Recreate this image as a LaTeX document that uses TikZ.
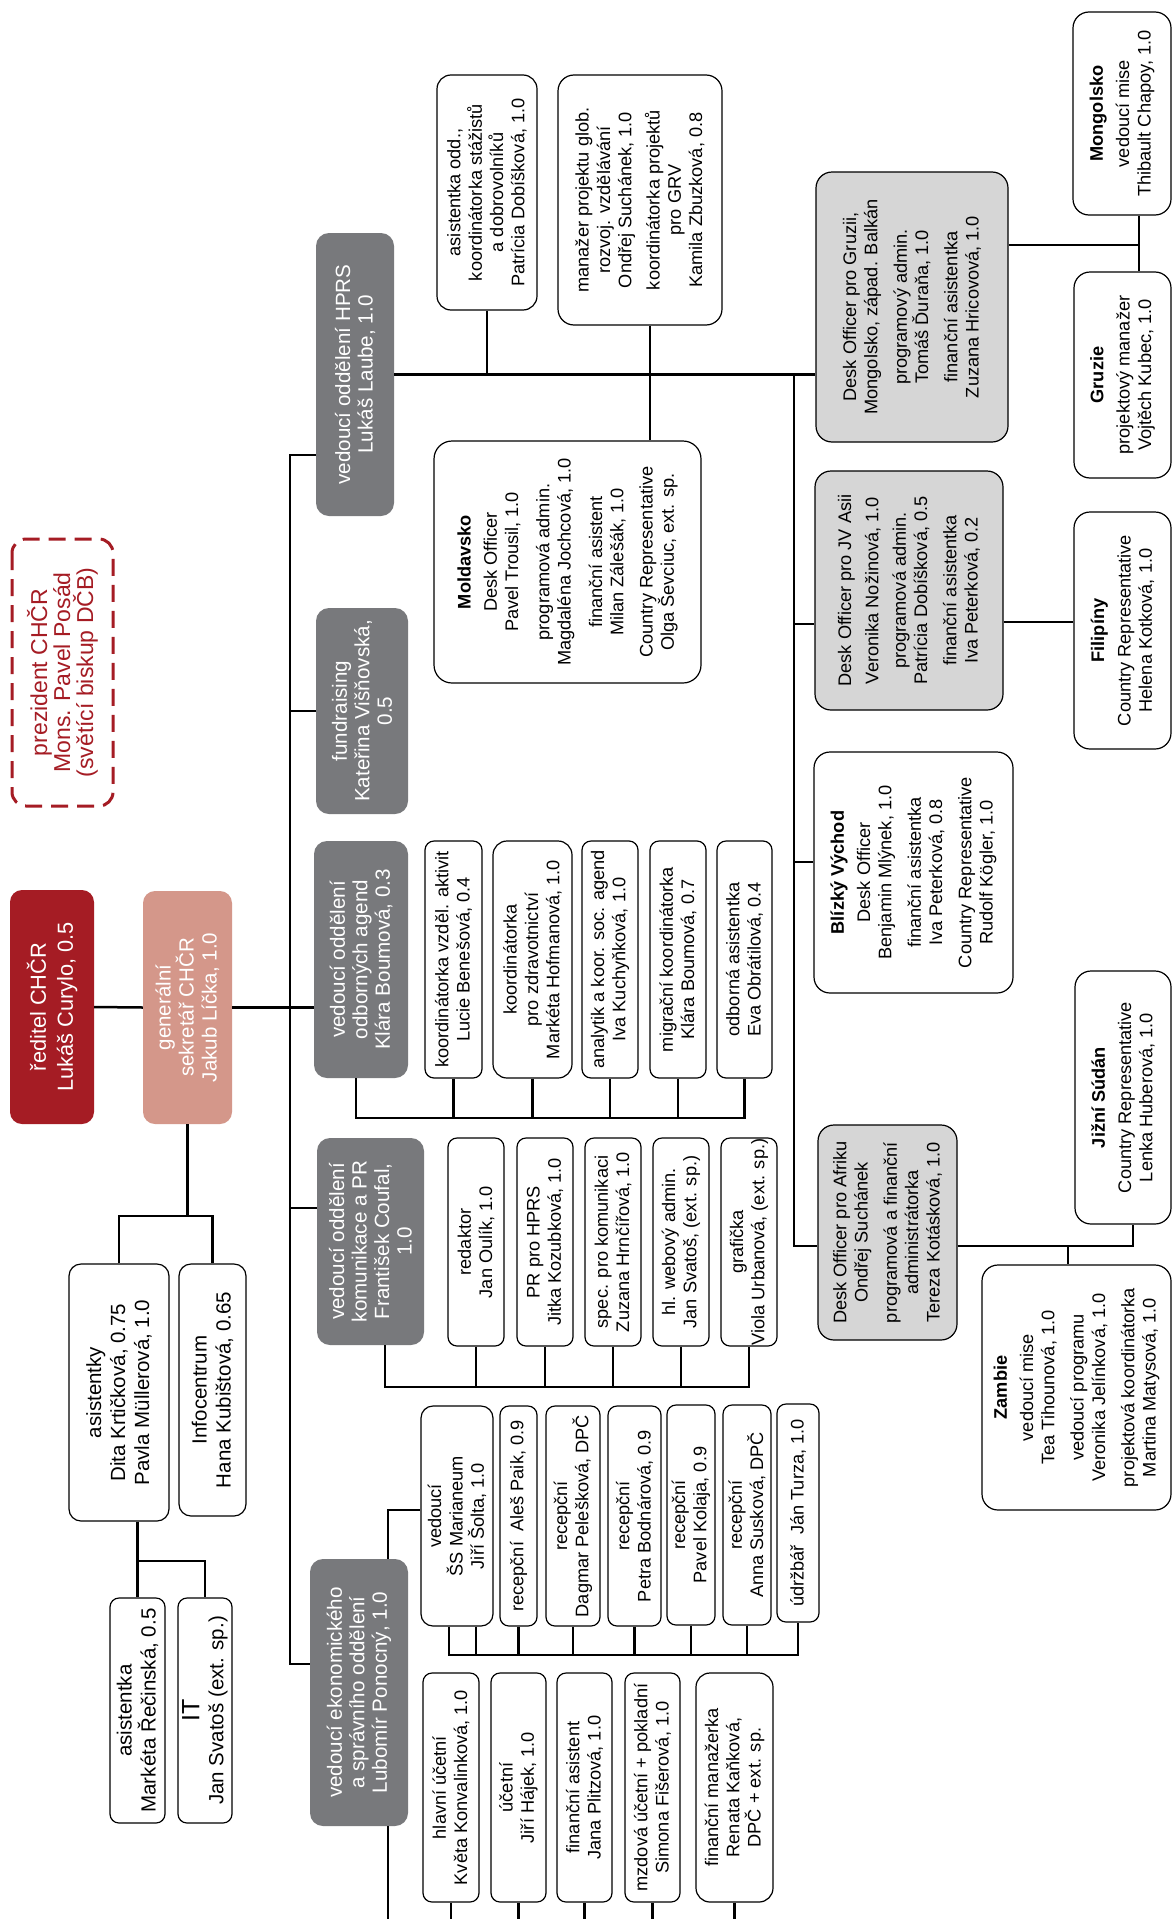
\documentclass[tikz,border=0pt]{standalone}
\usepackage{fontspec}
\setmainfont{Liberation Sans}
\definecolor{cred}{HTML}{A51C24}
\definecolor{csalmon}{HTML}{D4978A}
\definecolor{cgray}{HTML}{78797C}
\definecolor{clight}{HTML}{D6D6D6}
\newcommand\fsm{\fontsize{18.2}{21.3}\selectfont}
\newcommand\fdp{\fontsize{20.6}{22.5}\selectfont}
\newcommand\flc{\fontsize{20.5}{24}\selectfont}
\tikzset{
  base/.style={rotate=90, align=center, inner sep=0pt, font=\fsm},
  sz/.style 2 args={minimum height=#1pt, minimum width=#2pt},
  sbox/.style={base, draw, line width=1.2pt, rounded corners=9pt, fill=white},
  dept/.style={base, fill=cgray, rounded corners=13pt, text=white, font=\fdp},
  desk/.style={base, draw, line width=1.2pt, fill=clight, rounded corners=16pt},
  ctry/.style={base, draw, line width=1.2pt, fill=white, rounded corners=16pt},
  conn/.style={draw, line width=2.5pt},
}
\begin{document}
\begin{tikzpicture}[x=1pt, y=-1pt]
\fill[white] (0,0) rectangle (1173,1919);
\useasboundingbox (0,0) rectangle (1173,1919);

% leadership
\node[base, draw=cred, dash pattern=on 17pt off 9pt, line width=3pt, rounded corners=14pt, text=cred,
  font=\fontsize{23}{23}\selectfont, sz={101}{267}] (pres) at (62.5,672.5)
  {prezident CHČR\\Mons. Pavel Posád\\(světící biskup DČB)};
\node[base, fill=cred, rounded corners=12pt, text=white, font=\fontsize{21.8}{27}\selectfont,
  sz={84}{234}] (red) at (52,1007) {ředitel CHČR\\Lukáš Curylo, 0.5};
\node[base, fill=csalmon, rounded corners=12pt, text=white, font=\fontsize{20.5}{23}\selectfont,
  sz={89}{233}] (sekr) at (187.5,1007.5) {generální\\sekretář CHČR\\Jakub Líčka, 1.0};

% left column
\node[sbox, rounded corners=12pt, font=\flc, sz={100}{257}] (asist) at (119,1392.5) {asistentky\\Dita Krtičková, 0.75\\Pavla Müllerová, 1.0};
\node[sbox, rounded corners=12pt, font=\flc, sz={67}{252}] (info) at (212.5,1390) {Infocentrum\\Hana Kubištová, 0.65};
\node[sbox, font=\flc, sz={55}{225}] (asistka) at (137.5,1710.5) {asistentka\\Markéta Řečinská, 0.5};
\node[sbox, font=\flc, sz={54}{225}] (it) at (205,1710.5) {{\fontsize{25}{24}\selectfont IT}\\Jan Svatoš (ext. sp.)};

% departments
\node[dept, sz={78}{283}] (hprs) at (355,374.5) {vedoucí oddělení HPRS\\Lukáš Laube, 1.0};
\node[dept, sz={92}{206}] (fund) at (362,711) {fundraising\\Kateřina Višňovská,\\0.5};
\node[dept, sz={94}{237}] (odb) at (361,959.5) {vedoucí oddělení\\odborných agend\\Klára Boumová, 0.3};
\node[dept, sz={107}{207}] (kom) at (370.5,1241.5) {vedoucí oddělení\\komunikace a PR\\František Coufal,\\1.0};
\node[dept, sz={98}{267}] (eko) at (359,1692.5) {vedoucí ekonomického\\a správního oddělení\\Lubomír Ponocný, 1.0};

% HPRS
\node[sbox, rounded corners=14pt, sz={100}{235}] (asodd) at (487,192.5) {asistentka odd.,\\koordinátorka stážistů\\a dobrovolníků\\Patrícia Dobíšková, 1.0};
\node[sbox, rounded corners=16pt, sz={164}{250}] (manaz) at (640,200) {manažer projektu glob.\\rozvoj. vzdělávání\\Ondřej Suchánek, 1.0\\[7pt]koordinátorka projektů\\pro GRV\\Kamila Zbuzková, 0.8};
\node[ctry, rounded corners=18pt, sz={267}{242}] (mold) at (567.5,562) {\textbf{Moldavsko}\\[5pt]Desk Officer\\Pavel Trousil, 1.0\\[10pt]programová admin.\\Magdaléna Jochcová, 1.0\\[10pt]finanční asistent\\Milan Zálešák, 1.0\\[8pt]Country Representative\\Olga Ševciuc, ext. sp.};

% desk officers
\node[desk, sz={192}{270}] (gdesk) at (912,307) {Desk Officer pro Gruzii,\\Mongolsko, západ. Balkán\\[8pt]programový admin.\\Tomáš Ďuraňa, 1.0\\[8pt]finanční asistentka\\Zuzana Hricovová, 1.0};
\node[desk, sz={188}{239}] (jvdesk) at (909,590.5) {Desk Officer pro JV Asii\\[6pt]Veronika Nožinová, 1.0\\[6pt]programová admin.\\Patrícia Dobíšková, 0.5\\[8pt]finanční asistentka\\Iva Peterková, 0.2};
\node[ctry, sz={199}{241}] (bv) at (913.5,872.5) {\textbf{Blízký Východ}\\[5pt]Desk Officer\\Benjamin Mlýnek, 1.0\\[8pt]finanční asistentka\\Iva Peterková, 0.8\\[8pt]Country Representative\\Rudolf Kögler, 1.0};
\node[desk, sz={139}{215}] (afdesk) at (887.5,1232.5) {Desk Officer pro Afriku\\Ondřej Suchánek\\[8pt]programová a finanční\\administrátorka\\Tereza Kotásková, 1.0};

% countries
\node[ctry, sz={98}{203}] (mong) at (1122,113.5) {\textbf{Mongolsko}\\[5pt]vedoucí mise\\Thibault Chapoy, 1.0};
\node[ctry, sz={97}{206}] (gruz) at (1122.5,375) {\textbf{Gruzie}\\[5pt]projektový manažer\\Vojtěch Kubec, 1.0};
\node[ctry, sz={97}{237}] (fil) at (1122.5,630.5) {\textbf{Filipíny}\\[5pt]Country Representative\\Helena Kotková, 1.0};
\node[ctry, sz={96}{253}] (js) at (1123,1097.5) {\textbf{Jižní Súdán}\\[5pt]Country Representative\\Lenka Huberová, 1.0};
\node[ctry, sz={189}{245}] (zam) at (1076.5,1387.5) {\textbf{Zambie}\\[5pt]vedoucí mise\\Tea Tihounová, 1.0\\[8pt]vedoucí programu\\Veronika Jelínková, 1.0\\[8pt]projektová koordinátorka\\Martina Matysová, 1.0};

% odborne agendy
\node[sbox, sz={57}{237}] (o1) at (453.5,959.5) {koordinátorka vzděl. aktivit\\Lucie Benešová, 0.4};
\node[sbox, rounded corners=14pt, sz={79}{237}] (o2) at (532.5,959.5) {koordinátorka\\pro zdravotnictví\\Markéta Hofmanová, 1.0};
\node[sbox, sz={56}{237}] (o3) at (610,959.5) {analytik a koor. soc. agend\\Iva Kuchyňková, 1.0};
\node[sbox, sz={56}{237}] (o4) at (678,959.5) {migrační koordinátorka\\Klára Boumová, 0.7};
\node[sbox, sz={55}{237}] (o5) at (744.5,959.5) {odborná asistentka\\Eva Obrátilová, 0.4};

% komunikace
\node[sbox, sz={56}{208}] (k1) at (476,1242) {redaktor\\Jan Oulík, 1.0};
\node[sbox, sz={56}{208}] (k2) at (545,1242) {PR pro HPRS\\Jitka Kozubková, 1.0};
\node[sbox, sz={56}{208}] (k3) at (613,1242) {spec. pro komunikaci\\Zuzana Hrnčířová, 1.0};
\node[sbox, sz={56}{208}] (k4) at (681,1242) {hl. webový admin.\\Jan Svatoš, (ext. sp.)};
\node[sbox, sz={56}{208}] (k5) at (749,1242) {grafička\\Viola Urbanová, (ext. sp.)};

% ekonomicke - upper row
\node[sbox, rounded corners=12pt, sz={72}{220}] (eved) at (457,1516) {vedoucí\\ŠS Marianeum\\Jiří Šolta, 1.0};
\node[sbox, sz={37}{220}] (r1) at (518.5,1516) {recepční~~Aleš Paik, 0.9};
\node[sbox, sz={54}{220}] (r2) at (573,1516) {recepční\\Dagmar Pelešková, DPČ};
\node[sbox, sz={53}{220}] (r3) at (634.5,1516) {recepční\\Petra Bodnárová, 0.9};
\node[sbox, sz={48}{220}] (r4) at (691,1515) {recepční\\Pavel Kolaja, 0.9};
\node[sbox, sz={48}{220}] (r5) at (747,1515) {recepční\\Anna Susková, DPČ};
\node[sbox, sz={42}{218}] (r6) at (798,1513) {údržbář~~Ján Turza, 1.0};

% ekonomicke - lower row
\node[sbox, sz={56}{229}] (a1) at (451,1787.5) {hlavní účetní\\Květa Konvalinková, 1.0};
\node[sbox, sz={55}{229}] (a2) at (518.5,1787.5) {účetní\\Jiří Hájek, 1.0};
\node[sbox, sz={55}{229}] (a3) at (584.5,1787.5) {finanční asistent\\Jana Plitzová, 1.0};
\node[sbox, sz={55}{229}] (a4) at (652.5,1787.5) {mzdová účetní + pokladní\\Simona Fišerová, 1.0};
\node[sbox, rounded corners=14pt, sz={77}{229}] (a5) at (734.5,1787.5) {finanční manažerka\\Renata Kaňková,\\DPČ + ext. sp.};

% ---------- connectors ----------
\coordinate (tTop) at (290,455);
\coordinate (tBot) at (290,1664);
\coordinate (tKom) at (290,1208);
\draw[conn] (red.south) -- (sekr.north);
\draw[conn] (sekr.south) -- (odb.north |- sekr.south);
\draw[conn] (hprs.north |- tTop) -- (tTop) -- (tBot) -- (eko.north |- tBot);
\draw[conn] (tTop |- fund.north) -- (fund.north);
\draw[conn] (tKom) -- (kom.north |- tKom);

% left
\coordinate (jAs) at (119,1216);
\coordinate (jIT) at (137.5,1561);
\draw[conn] (sekr.west) -- (sekr.west |- jAs);
\draw[conn] (asist.east) -- (jAs) -| (info.east);
\draw[conn] (asist.west -| jIT) -- (asistka.east);
\draw[conn] (jIT) -| (it.east);

% HPRS
\draw[conn] (hprs.south) -- (gdesk.north |- hprs.south);
\draw[conn] (asodd.west) -- (asodd.west |- hprs.south);
\coordinate (mT) at (650,325);
\draw[conn] (manaz.west -| mT) -- (mT |- mold.east);
\coordinate (dT) at (794,374.5);
\coordinate (dB) at (794,1246);
\coordinate (dJV) at (794,624);
\coordinate (dBV) at (794,862);
\draw[conn] (dT) -- (dB) -- (afdesk.north |- dB);
\draw[conn] (dJV) -- (jvdesk.north |- dJV);
\draw[conn] (dBV) -- (bv.north |- dBV);
\coordinate (jMG) at (1139,245);
\draw[conn] (gdesk.south |- jMG) -- (jMG);
\draw[conn] (jMG |- mong.west) -- (jMG |- gruz.east);
\coordinate (jF) at (1040,622);
\draw[conn] (jvdesk.south |- jF) -- (fil.north |- jF);
\coordinate (jAf) at (1133,1246);
\coordinate (jZ) at (1068,1246);
\draw[conn] (afdesk.south |- jAf) -- (jAf) -- (jAf |- js.west);
\draw[conn] (jZ) -- (jZ |- zam.east);

% odborne bus
\coordinate (bO) at (356,1118);
\draw[conn] (odb.west -| bO) -- (bO) -| (o5.west);
\foreach \n in {o1,o2,o3,o4} \draw[conn] (\n.west) -- (\n.west |- bO);

% komunikace bus
\coordinate (bK) at (385,1387);
\draw[conn] (kom.west -| bK) -- (bK) -| (k5.west);
\foreach \n in {k1,k2,k3,k4} \draw[conn] (\n.west) -- (\n.west |- bK);

% ekonomicke
\coordinate (eT) at (388,1510);
\draw[conn] (eko.east -| eT) -- (eT) -- (eved.north |- eT);
\coordinate (bR) at (449,1655);
\coordinate (bR2) at (476,1655);
\draw[conn] (eved.west -| bR) -- (bR) -| (r6.west);
\draw[conn] (eved.west -| bR2) -- (bR2);
\foreach \n in {r1,r2,r3,r4,r5} \draw[conn] (\n.west) -- (\n.west |- bR);
\coordinate (eB) at (388,1919);
\draw[conn] (eko.west -| eB) -- (eB);
\foreach \n in {a1,a2,a3,a4,a5} \draw[conn] (\n.west) -- (\n.west |- eB);
\end{tikzpicture}
\end{document}
